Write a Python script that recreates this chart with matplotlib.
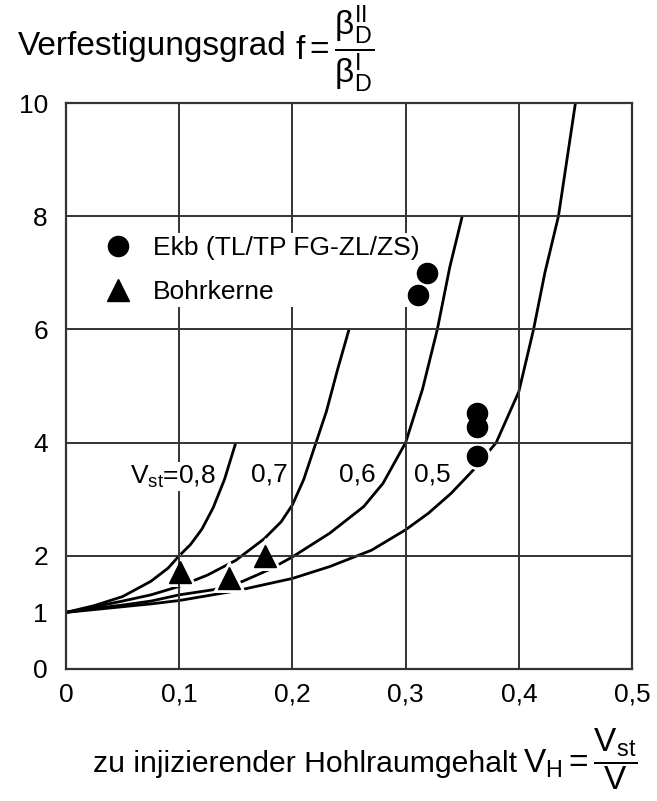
import matplotlib
matplotlib.use("Agg")
import matplotlib.pyplot as plt

plt.rcParams["font.family"] = ["Liberation Sans", "DejaVu Sans"]
plt.rcParams["mathtext.fontset"] = "custom"
plt.rcParams["mathtext.rm"] = "Liberation Sans"
plt.rcParams["mathtext.it"] = "Liberation Sans:italic"
plt.rcParams["mathtext.default"] = "regular"

# curves f(V_H) for the different V_st values
v08_x = [0.0, 0.025, 0.05, 0.075, 0.09, 0.10, 0.11, 0.12, 0.13, 0.14, 0.15]
v08_y = [1.0, 1.12, 1.28, 1.55, 1.78, 2.0, 2.2, 2.47, 2.85, 3.35, 4.0]

v07_x = [0.0, 0.025, 0.05, 0.075, 0.1, 0.125, 0.15, 0.175, 0.19, 0.2, 0.21,
         0.22, 0.23, 0.24, 0.25]
v07_y = [1.0, 1.1, 1.2, 1.31, 1.46, 1.66, 1.92, 2.3, 2.6, 2.9, 3.35,
         3.95, 4.55, 5.3, 6.0]

v06_x = [0.0, 0.025, 0.05, 0.075, 0.1, 0.13, 0.155, 0.18, 0.2, 0.233, 0.263,
         0.28, 0.3, 0.315, 0.328, 0.339, 0.35]
v06_y = [1.0, 1.07, 1.13, 1.2, 1.31, 1.4, 1.54, 1.76, 1.98, 2.4, 2.87,
         3.28, 4.0, 4.95, 6.0, 7.1, 8.0]

v05_x = [0.0, 0.025, 0.05, 0.075, 0.1, 0.15, 0.2, 0.233, 0.27, 0.3, 0.32,
         0.34, 0.36, 0.38, 0.4, 0.413, 0.423, 0.435, 0.45]
v05_y = [1.0, 1.05, 1.1, 1.15, 1.21, 1.38, 1.6, 1.81, 2.1, 2.46, 2.75,
         3.1, 3.52, 4.0, 4.9, 6.0, 7.0, 8.0, 10.0]

curve_labels = [r"$V_{st}$=0,8", "0,7", "0,6", "0,5"]
label_x = [0.094, 0.180, 0.257, 0.324]
label_y = [3.40, 3.43, 3.44, 3.43]

# measurements
ekb_x = [0.3189, 0.3108, 0.3634, 0.3634, 0.3628]
ekb_y = [7.0, 6.61, 4.53, 4.28, 3.77]
bohr_x = [0.1007, 0.144, 0.1755]
bohr_y = [1.71, 1.60, 2.0]

xticks = [0, 0.1, 0.2, 0.3, 0.4, 0.5]
xtick_labels = ["0", "0,1", "0,2", "0,3", "0,4", "0,5"]
yticks = [0, 2, 4, 6, 8, 10]
grid_x = [0.1, 0.2, 0.3, 0.4]
grid_y = [2, 4, 6, 8]

fig = plt.figure(figsize=(6.57, 8.01), dpi=100)
ax = fig.add_axes([0.1005, 0.1648, 0.8615, 0.7066])
ax.set_xlim(0, 0.5)
ax.set_ylim(0, 10)

for v in grid_x:
    ax.axvline(v, color="#333333", lw=1.4, zorder=2.7)
for v in grid_y:
    ax.axhline(v, color="#333333", lw=1.4, zorder=2.7)

for cx, cy in [(v08_x, v08_y), (v07_x, v07_y), (v06_x, v06_y), (v05_x, v05_y)]:
    ax.plot(cx, cy, color="black", lw=2.0, zorder=2, solid_capstyle="butt")

for lab, lx, ly in zip(curve_labels, label_x, label_y):
    ax.text(lx, ly, lab, fontsize=19, ha="center", va="center", zorder=3,
            bbox=dict(facecolor="white", edgecolor="none", pad=1))

# white knock-outs so the curves break around the symbols
ax.plot(ekb_x, ekb_y, "o", ms=14.5, mfc="white", mec="white", mew=5, zorder=2.5)
ax.plot(bohr_x, bohr_y, "^", ms=15.5, mfc="white", mec="white", mew=5, zorder=2.5)
ax.plot(ekb_x, ekb_y, "o", ms=14.5, color="black", ls="none", zorder=4,
        label="Ekb (TL/TP FG-ZL/ZS)")
ax.plot(bohr_x, bohr_y, "^", ms=15.5, color="black", ls="none", zorder=4,
        label="Bohrkerne")

leg = ax.legend(loc="center left", bbox_to_anchor=(0.063, 0.705), fontsize=19,
                frameon=True, facecolor="white", edgecolor="none", framealpha=1,
                borderpad=0.1, borderaxespad=0, handlelength=1.0,
                handletextpad=0.83, labelspacing=0.75, fancybox=False)
leg.set_zorder(3.5)

ax.set_xticks(xticks)
ax.set_xticklabels(xtick_labels)
ax.set_yticks(yticks)
ax.set_yticklabels([str(v) for v in yticks])
ax.set_yticks([1], minor=True)
ax.set_yticklabels(["1"], minor=True)
ax.tick_params(axis="both", which="both", length=0, labelsize=19)
ax.tick_params(axis="y", which="both", pad=13)
ax.tick_params(axis="x", pad=10)

for s in ax.spines.values():
    s.set_linewidth(1.6)
    s.set_color("#333333")
    s.set_zorder(3)

# axis titles: plain words and formula part set separately
W, H = 657, 801
t1 = fig.text(18 / W, 1 - 55 / H, "Verfestigungsgrad", fontsize=24,
              ha="left", va="baseline")
x1 = fig.text(93 / W, 1 - 772 / H, "zu injizierender Hohlraumgehalt",
              fontsize=21.7, ha="left", va="baseline")
fig.canvas.draw()
r = fig.canvas.get_renderer()
e1 = t1.get_window_extent(r)
e2 = x1.get_window_extent(r)
fig.text((e1.x1 + 8) / W, 1 - 60 / H,
         r"$\mathrm{f} = \dfrac{\beta_D^{II}}{\beta_D^{I}}$",
         fontsize=24, ha="left", va="baseline")
fig.text((e2.x1 + 6) / W, 1 - 772 / H, r"$V_H = \dfrac{V_{st}}{V}$",
         fontsize=24, ha="left", va="baseline")

fig.savefig("out.png", dpi=100)
